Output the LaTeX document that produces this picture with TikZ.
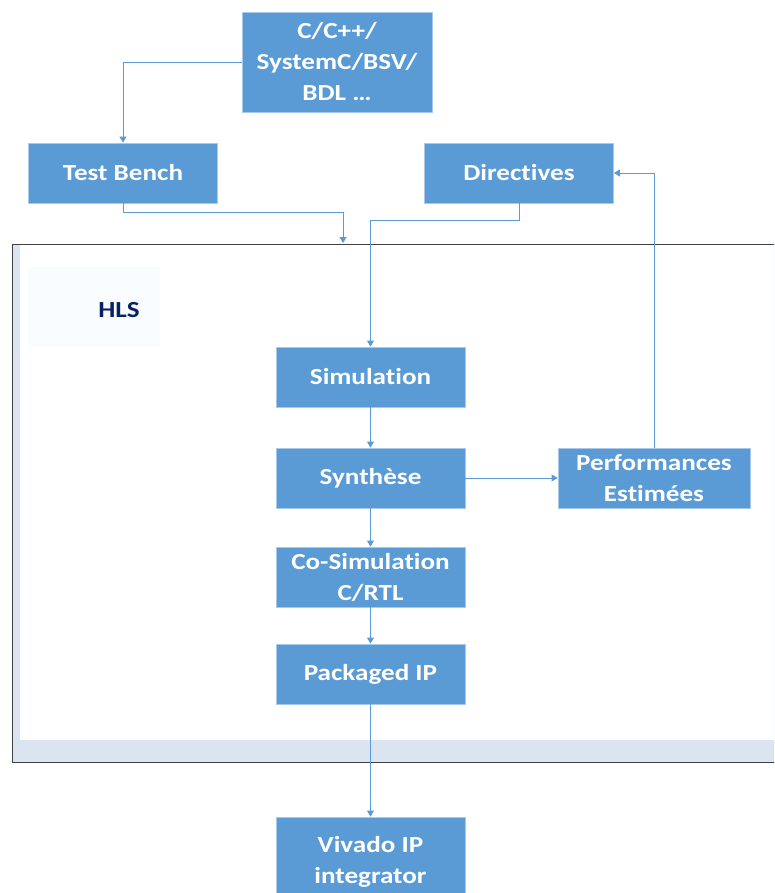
\documentclass[tikz,border=0pt]{standalone}
\usepackage{fontspec}
\setmainfont{Carlito}[FakeStretch=1.18, Ligatures=NoCommon]
\usetikzlibrary{arrows.meta,positioning,calc}
\definecolor{boxblue}{HTML}{5B9BD5}
\definecolor{boxedge}{HTML}{A9C8EA}
\definecolor{hlsstrip}{HTML}{DAE5F1}
\definecolor{hlspanel}{HTML}{FAFDFF}
\definecolor{hlsnavy}{HTML}{0A2263}
\tikzset{
  blk/.style={draw=boxedge, line width=0.8pt, fill=boxblue, minimum width=189pt, minimum height=60pt, inner sep=0pt, align=center, text=white, font=\fontsize{23}{31}\selectfont\bfseries},
  flow/.style={-{Triangle[length=6pt,width=7pt]}, draw=boxblue, line width=0.9pt}
}
\begin{document}
\begin{tikzpicture}[x=1pt, y=-1pt]
  \clip (0,0) rectangle (774,893);
  \fill[white] (0,0) rectangle (774,893);
  % HLS frame
  \fill[hlsstrip] (12,244) rectangle (790,762);
  \fill[white] (20,245) rectangle (790,740);
  \draw[black!75, line width=1pt] (790,244) -- (12,244) -- (12,762) -- (790,762);
  \fill[hlspanel] (28,267) rectangle (160,347);
  \node[text=hlsnavy, font=\fontsize{23}{31}\selectfont\bfseries] (hls) at (119,310) {HLS};
  % blocks
  \node[blk, minimum width=190pt, minimum height=100pt] (src) at (337,62) {C/C++/\\SystemC/BSV/\\BDL \dots};
  \node[blk] (bench) at (123,173) {Test Bench};
  \node[blk] (direc) at (519,173) {Directives};
  \node[blk] (simu) at (370.5,377) {Simulation};
  \node[blk] (synth) at (370.5,478) {Synthèse};
  \node[blk] (cosim) at (370.5,577) {Co-Simulation\\C/RTL};
  \node[blk] (pkg) at (370.5,674) {Packaged IP};
  \node[blk, minimum height=90pt] (vivado) at (370.5,862) {Vivado IP\\integrator};
  \node[blk, minimum width=192pt] (perf) at (654,478) {Performances\\Estimées};
  \coordinate (hlsin) at (343,243);
  % connectors
  \draw[flow] (src.west) -| (bench.north);
  \draw[flow] (bench.south) -- ++(0,9) -| (hlsin);
  \draw[flow] (direc.south) -- ++(0,17) -| (simu.north);
  \foreach \a/\b in {simu/synth, synth/cosim, cosim/pkg, pkg/vivado} \draw[flow] (\a) -- (\b);
  \draw[flow] (synth.east) -- (perf.west);
  \draw[flow] (perf.north) |- (direc.east);
\end{tikzpicture}
\end{document}
